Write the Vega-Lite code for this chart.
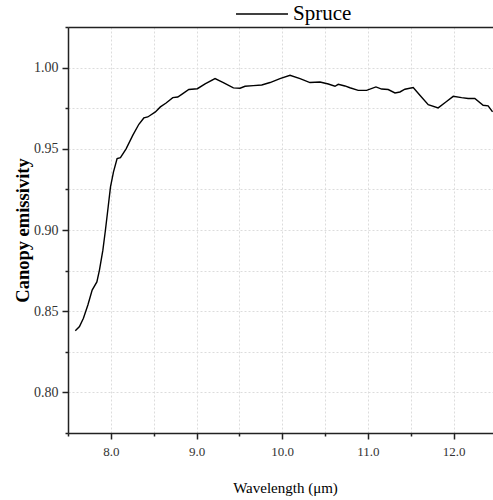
{
  "$schema": "https://vega.github.io/schema/vega-lite/v6.json",
  "width": 425,
  "height": 406,
  "autosize": {"type": "none"},
  "padding": {"left": 68, "top": 27, "right": 0, "bottom": 67},
  "background": "white",
  "config": {"view": {"stroke": null}, "font": "Liberation Serif"},
  "data": {
    "values": [
      {"wavelength": 7.585, "emissivity": 0.838},
      {"wavelength": 7.634, "emissivity": 0.8405},
      {"wavelength": 7.68, "emissivity": 0.8456},
      {"wavelength": 7.732, "emissivity": 0.8538},
      {"wavelength": 7.782, "emissivity": 0.863},
      {"wavelength": 7.837, "emissivity": 0.868},
      {"wavelength": 7.867, "emissivity": 0.8753},
      {"wavelength": 7.907, "emissivity": 0.8876},
      {"wavelength": 7.937, "emissivity": 0.9},
      {"wavelength": 7.969, "emissivity": 0.9143},
      {"wavelength": 7.996, "emissivity": 0.9266},
      {"wavelength": 8.031, "emissivity": 0.9358},
      {"wavelength": 8.073, "emissivity": 0.944},
      {"wavelength": 8.112, "emissivity": 0.9446},
      {"wavelength": 8.178, "emissivity": 0.95},
      {"wavelength": 8.257, "emissivity": 0.9584},
      {"wavelength": 8.327, "emissivity": 0.9651},
      {"wavelength": 8.385, "emissivity": 0.969},
      {"wavelength": 8.431, "emissivity": 0.9696},
      {"wavelength": 8.52, "emissivity": 0.9727},
      {"wavelength": 8.578, "emissivity": 0.9758},
      {"wavelength": 8.645, "emissivity": 0.9782},
      {"wavelength": 8.723, "emissivity": 0.9815},
      {"wavelength": 8.781, "emissivity": 0.9819},
      {"wavelength": 8.84, "emissivity": 0.984},
      {"wavelength": 8.91, "emissivity": 0.9865},
      {"wavelength": 9.01, "emissivity": 0.987},
      {"wavelength": 9.1, "emissivity": 0.99},
      {"wavelength": 9.216, "emissivity": 0.9932},
      {"wavelength": 9.313, "emissivity": 0.9908},
      {"wavelength": 9.43, "emissivity": 0.9875},
      {"wavelength": 9.508, "emissivity": 0.9873},
      {"wavelength": 9.566, "emissivity": 0.9885},
      {"wavelength": 9.663, "emissivity": 0.9889},
      {"wavelength": 9.761, "emissivity": 0.9893},
      {"wavelength": 9.858, "emissivity": 0.9908},
      {"wavelength": 9.974, "emissivity": 0.9932},
      {"wavelength": 10.091, "emissivity": 0.9953},
      {"wavelength": 10.208, "emissivity": 0.9932},
      {"wavelength": 10.324, "emissivity": 0.9908},
      {"wavelength": 10.441, "emissivity": 0.9911},
      {"wavelength": 10.538, "emissivity": 0.9899},
      {"wavelength": 10.616, "emissivity": 0.9885},
      {"wavelength": 10.654, "emissivity": 0.9897},
      {"wavelength": 10.732, "emissivity": 0.9887},
      {"wavelength": 10.79, "emissivity": 0.9876},
      {"wavelength": 10.887, "emissivity": 0.986},
      {"wavelength": 10.985, "emissivity": 0.986},
      {"wavelength": 11.094, "emissivity": 0.9881},
      {"wavelength": 11.16, "emissivity": 0.9868},
      {"wavelength": 11.237, "emissivity": 0.9865},
      {"wavelength": 11.316, "emissivity": 0.9844},
      {"wavelength": 11.374, "emissivity": 0.985},
      {"wavelength": 11.432, "emissivity": 0.9867},
      {"wavelength": 11.529, "emissivity": 0.9877},
      {"wavelength": 11.607, "emissivity": 0.983},
      {"wavelength": 11.704, "emissivity": 0.9772},
      {"wavelength": 11.82, "emissivity": 0.9752},
      {"wavelength": 11.91, "emissivity": 0.9788},
      {"wavelength": 11.996, "emissivity": 0.9823},
      {"wavelength": 12.093, "emissivity": 0.9815},
      {"wavelength": 12.17, "emissivity": 0.981},
      {"wavelength": 12.248, "emissivity": 0.981},
      {"wavelength": 12.345, "emissivity": 0.9768},
      {"wavelength": 12.403, "emissivity": 0.9764},
      {"wavelength": 12.455, "emissivity": 0.9727}
    ]
  },
  "layer": [
    {
      "mark": {"type": "line", "strokeWidth": 1.4, "clip": true},
      "encoding": {
        "x": {
          "field": "wavelength",
          "type": "quantitative",
          "scale": {"domain": [7.5, 12.46], "nice": false, "zero": false},
          "axis": {
            "orient": "bottom",
            "title": "Wavelength (μm)",
            "titleFont": "Liberation Serif",
            "titleFontSize": 15,
            "titleFontWeight": "normal",
            "titleColor": "black",
            "titlePadding": 22,
            "titleX": 217,
            "values": [7.5, 8, 8.5, 9, 9.5, 10, 10.5, 11, 11.5, 12],
            "labelExpr": "round(datum.value*2)%2==0 ? format(datum.value,'.1f') : ''",
            "labelFont": "Liberation Serif",
            "labelFontSize": 13,
            "labelColor": "#333",
            "labelPadding": 6,
            "labelFlush": false,
            "labelOverlap": false,
            "tickSize": {"condition": {"test": "round(datum.value*2)%2==0", "value": 6}, "value": 3},
            "tickColor": "#222",
            "tickWidth": 1.5,
            "domainColor": "#222",
            "domainWidth": 1.5,
            "grid": true,
            "gridColor": "#dcdcdc",
            "gridDash": [2, 2],
            "gridWidth": 1
          }
        },
        "y": {
          "field": "emissivity",
          "type": "quantitative",
          "scale": {"domain": [0.775, 1.025], "nice": false, "zero": false},
          "axis": {
            "orient": "left",
            "title": "Canopy emissivity",
            "titleFont": "Liberation Serif",
            "titleFontSize": 18.5,
            "titleFontWeight": "bold",
            "titleColor": "black",
            "titlePadding": 1,
            "values": [0.775, 0.8, 0.825, 0.85, 0.875, 0.9, 0.925, 0.95, 0.975, 1.0, 1.025],
            "labelExpr": "round(datum.value*40)%2==0 ? format(datum.value,'.2f') : ''",
            "labelFont": "Liberation Serif",
            "labelFontSize": 14,
            "labelColor": "#333",
            "labelPadding": 4,
            "labelOverlap": false,
            "labelFlush": false,
            "tickSize": {"condition": {"test": "round(datum.value*40)%2==0", "value": 6}, "value": 3},
            "tickColor": "#222",
            "tickWidth": 1.5,
            "domainColor": "#222",
            "domainWidth": 1.5,
            "grid": true,
            "gridColor": "#dcdcdc",
            "gridDash": [2, 2],
            "gridWidth": 1
          }
        },
        "color": {
          "datum": "Spruce",
          "scale": {"range": ["black"]},
          "legend": {
            "orient": "none",
            "legendX": 167,
            "legendY": -40,
            "title": null,
            "padding": 0,
            "symbolType": "stroke",
            "symbolSize": 2700,
            "symbolStrokeWidth": 1.4,
            "labelFont": "Liberation Serif",
            "labelFontSize": 21,
            "labelColor": "black",
            "labelOffset": 4
          }
        }
      }
    },
    {
      "mark": {"type": "line", "opacity": 0},
      "encoding": {
        "x": {
          "field": "wavelength",
          "type": "quantitative",
          "axis": {
            "orient": "top",
            "labels": false,
            "ticks": false,
            "grid": false,
            "title": null,
            "domainColor": "#222",
            "domainWidth": 1.5
          }
        },
        "y": {"field": "emissivity", "type": "quantitative"}
      }
    }
  ]
}
